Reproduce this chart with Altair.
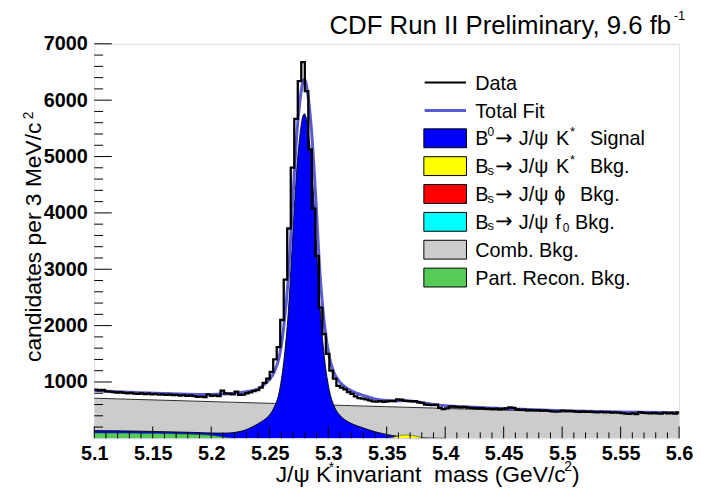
import altair as alt
import pandas as pd

# ---------------- data ----------------
bin_lo = 5.1
bin_width = 0.003
counts = [865, 850, 858, 835, 828, 820, 812, 818, 805, 800, 808, 795, 790, 798, 785, 792,
          780, 788, 775, 782, 770, 778, 765, 772, 758, 765, 752, 760, 748, 735, 740, 730,
          780, 755, 760, 750, 845, 798, 795, 780, 828, 770, 775, 800, 815, 838,
          856, 900, 985, 1061, 1179, 1400, 1617, 2100, 2816, 3723, 4804, 5670, 6337, 6675,
          6161, 5126, 4074, 3237, 2319, 1851, 1500, 1200, 1060, 930,
          900, 870, 820, 790, 745, 715, 705, 690, 675, 655, 650, 660, 648, 655, 665, 660,
          690, 685, 665, 660, 655, 662, 640, 630, 600, 595, 590, 598, 540, 520, 530, 562,
          565, 555, 550, 558, 545, 540, 535, 530, 538, 522,
          525, 520, 528, 515, 522, 530, 548, 540, 512, 505, 510, 498, 502, 495, 500, 492,
          496, 488, 480, 475, 478, 490, 485, 488, 482, 476, 472, 480, 470, 476, 465, 462,
          468, 460, 464, 458, 462, 455, 448, 440, 435, 445, 432, 465, 452, 448, 445, 450,
          444, 440, 455, 445, 450, 440, 462]

curve_x = [5.100, 5.120, 5.140, 5.160, 5.180, 5.200, 5.210, 5.220, 5.230, 5.240,
           5.245, 5.250, 5.254, 5.258, 5.262, 5.266, 5.270, 5.273, 5.276, 5.278,
           5.2796, 5.281, 5.283, 5.286, 5.289, 5.293, 5.297, 5.301, 5.305, 5.310,
           5.315, 5.320, 5.330, 5.340, 5.350, 5.355, 5.360, 5.365, 5.370, 5.375,
           5.380, 5.385, 5.390, 5.400, 5.420, 5.450, 5.500, 5.550, 5.600]
comb_bkg = [712, 700, 688, 676, 664, 652, 646, 640, 634, 628,
            625, 622, 620, 617, 615, 613, 610, 608, 606, 605,
            604, 603, 602, 600, 598, 596, 594, 591, 589, 586,
            583, 580, 574, 568, 562, 559, 556, 553, 550, 547,
            544, 541, 538, 530, 518, 500, 472, 455, 442]
signal_b0 = [137, 133, 127, 118, 108, 95, 92, 105, 155, 260,
             325, 420, 560, 810, 1360, 2270, 3720, 4730, 5410, 5690,
             5760, 5700, 5440, 4790, 3800, 2330, 1390, 850, 575, 410,
             320, 262, 185, 118, 70, 50, 35, 25, 18, 12,
             8, 5, 3, 0, 0, 0, 0, 0, 0]
part_recon = [95, 93, 90, 85, 75, 55, 25, 0, 0, 0,
              0, 0, 0, 0, 0, 0, 0, 0, 0, 0,
              0, 0, 0, 0, 0, 0, 0, 0, 0, 0,
              0, 0, 0, 0, 0, 0, 0, 0, 0, 0,
              0, 0, 0, 0, 0, 0, 0, 0, 0]
bs_kstar = [0, 0, 0, 0, 0, 0, 0, 0, 0, 0,
            0, 0, 0, 0, 0, 0, 0, 0, 0, 0,
            0, 0, 0, 0, 0, 0, 0, 0, 0, 0,
            0, 0, 0, 0, 0, 15, 42, 60, 55, 38,
            15, 0, 0, 0, 0, 0, 0, 0, 0]
total_fit = [850, 828, 810, 795, 783, 778, 785, 800, 828, 880,
             950, 1045, 1185, 1430, 1975, 2880, 4330, 5340, 6015, 6295,
             6365, 6305, 6040, 5390, 4400, 2925, 1985, 1440, 1165, 995,
             903, 842, 760, 700, 672, 668, 668, 670, 665, 652,
             635, 618, 603, 580, 555, 528, 492, 468, 455]

x_ticks = [5.1, 5.15, 5.2, 5.25, 5.3, 5.35, 5.4, 5.45, 5.5, 5.55, 5.6]
y_ticks = [1000, 2000, 3000, 4000, 5000, 6000, 7000]
x_minor = [round(5.1 + 0.01 * k, 2) for k in range(51) if k % 5]
y_minor = [200 * k for k in range(1, 35) if k % 5]

# ---------------- layout ----------------
W, H = 590, 398
X0, Y0 = 95, 42
FONT = "Liberation Sans"
FIT_COLOR = "#5a5ad2"

edges = [round(bin_lo + bin_width * i, 4) for i in range(len(counts) + 1)]
hist = pd.DataFrame({"m": edges, "n": counts + [counts[-1]]})
cur = pd.DataFrame({"m": curve_x, "comb": comb_bkg, "sig": signal_b0,
                    "pr": part_recon, "bsk": bs_kstar, "fit": total_fit})

xscale = alt.Scale(domain=[5.1, 5.6], nice=False, zero=False)
yscale = alt.Scale(domain=[0, 7000], nice=False)
xaxis = alt.Axis(values=x_ticks, format=".2~f", labelFont=FONT, labelFontSize=20,
                 labelFontWeight="bold", labelColor="black", tickSize=0, domain=False,
                 grid=False, labelPadding=5, title=None, labelFlush=False)
yaxis = alt.Axis(values=y_ticks, format="d", labelFont=FONT, labelFontSize=20,
                 labelFontWeight="bold", labelColor="black", tickSize=0, domain=False,
                 grid=False, labelPadding=7, title=None)


def X(f):
    return alt.X(f"{f}:Q", scale=xscale, axis=xaxis)


def Y(f):
    return alt.Y(f"{f}:Q", scale=yscale, axis=yaxis)


def area(df, color, field, outline="black", ow=0.8):
    return (alt.Chart(df).mark_area(color=color, opacity=1, fillOpacity=1, interpolate="monotone",
                                     clip=True, line={"color": outline, "strokeWidth": ow})
            .encode(x=X("m"), y=Y(field)))


layers = []
layers.append(area(cur, "#cccccc", "comb"))
layers.append(area(cur[cur.m <= 5.40], "#0000ff", "sig", ow=0.9))
layers.append(area(cur[cur.m <= 5.22], "#55cc55", "pr", outline="#1d4d1d", ow=0.6))
layers.append(area(cur[(cur.m >= 5.35) & (cur.m <= 5.385)], "#ffff00", "bsk", outline="#555500", ow=0.6))
layers.append(alt.Chart(cur).mark_line(color=FIT_COLOR, strokeWidth=3, interpolate="monotone", clip=True)
              .encode(x=X("m"), y=Y("fit")))
layers.append(alt.Chart(hist).mark_line(color="black", strokeWidth=2.3, interpolate="step-after", clip=True)
              .encode(x=X("m"), y=Y("n")))

# inside ticks
layers.append(alt.Chart(pd.DataFrame({"m": x_ticks})).mark_rule(color="black", strokeWidth=1)
              .encode(x=X("m"), y=alt.value(H), y2=alt.value(H - 12)))
layers.append(alt.Chart(pd.DataFrame({"m": x_minor})).mark_rule(color="black", strokeWidth=1)
              .encode(x=X("m"), y=alt.value(H), y2=alt.value(H - 6)))
layers.append(alt.Chart(pd.DataFrame({"v": y_ticks})).mark_rule(color="black", strokeWidth=1)
              .encode(y=Y("v"), x=alt.value(0), x2=alt.value(17.7)))
layers.append(alt.Chart(pd.DataFrame({"v": y_minor})).mark_rule(color="black", strokeWidth=1)
              .encode(y=Y("v"), x=alt.value(0), x2=alt.value(8.9)))

dummy = pd.DataFrame({"a": [0]})


def txt(s, px, py, size, weight="normal", angle=0, align="left", font=FONT):
    return alt.Chart(dummy).mark_text(text=s, fontSize=size, font=font, fontWeight=weight,
                                      align=align, baseline="alphabetic", angle=angle,
                                      color="black").encode(x=alt.value(px - X0), y=alt.value(py - Y0))


# legend
rows = [81, 109.2, 137.3, 165.4, 193.5, 221.6, 249.7, 277.8]
layers.append(alt.Chart(dummy).mark_rule(color="black", strokeWidth=2)
              .encode(x=alt.value(428.3 - X0), x2=alt.value(470 - X0), y=alt.value(rows[0] - Y0)))
layers.append(alt.Chart(dummy).mark_rule(color=FIT_COLOR, strokeWidth=3)
              .encode(x=alt.value(428.3 - X0), x2=alt.value(470 - X0), y=alt.value(rows[1] - Y0)))
box_colors = ["#0000ff", "#ffff00", "#ff0000", "#00ffff", "#cccccc", "#55cc55"]
for k, col in enumerate(box_colors):
    c = rows[k + 2]
    layers.append(alt.Chart(dummy).mark_rect(color=col, opacity=1, stroke="black", strokeWidth=1)
                  .encode(x=alt.value(427.5 - X0), x2=alt.value(470.5 - X0),
                          y=alt.value(c - 9.5 - Y0), y2=alt.value(c + 9.5 - Y0)))

LX = 479.3
b = [c + 7.2 for c in rows]
pieces = [("Data", LX, b[0], 20), ("Total Fit", LX, b[1], 20),
          ("B", LX, b[2], 20), ("0", 491.7, rows[2] - 2, 12),
          ("J/\u03c8", 523.3, b[2], 20), ("K", 560.7, b[2], 20), ("*", 575, rows[2] - 2.5, 13),
          ("Signal", 595, b[2], 20),
          ("B", LX, b[3], 20), ("s", 491.7, rows[3] + 8.6, 13),
          ("J/\u03c8", 523.3, b[3], 20), ("K", 560.7, b[3], 20), ("*", 575, rows[3] - 2.5, 13),
          ("Bkg.", 595, b[3], 20),
          ("B", LX, b[4], 20), ("s", 491.7, rows[4] + 8.6, 13),
          ("J/\u03c8", 523.3, b[4], 20), ("\u03d5", 559, b[4], 20), ("Bkg.", 585, b[4], 20),
          ("B", LX, b[5], 20), ("s", 491.7, rows[5] + 8.6, 13),
          ("J/\u03c8", 523.3, b[5], 20), ("f", 560, b[5], 20), ("0", 567.5, rows[5] + 10.4, 12),
          ("Bkg.", 580, b[5], 20),
          ("Comb. Bkg.", LX, b[6], 20), ("Part. Recon. Bkg.", LX, b[7], 20)]
for s, px, py, fs in pieces:
    layers.append(txt(s, px, py, fs))
for r in (2, 3, 4, 5):
    layers.append(txt("\u2192", 499.5, b[r] - 0.5, 21, font="DejaVu Sans"))

# title
layers.append(txt("CDF Run II Preliminary, 9.6 fb", 677, 32, 26, align="right"))
layers.append(txt("-1", 679.5, 18, 13))

# x axis title
layers.append(txt("J/\u03c8 K", 278, 484, 23))
layers.append(txt("*", 331.5, 474, 14))
layers.append(txt("invariant \u00a0mass (GeV/c", 338, 484, 23))
layers.append(txt("2", 569, 473, 14))
layers.append(txt(")", 577, 484, 23))

# y axis title
layers.append(txt("candidates per 3 MeV/c", 41.5, 363, 23, angle=270))
layers.append(txt("2", 33.5, 118, 14, angle=270))

chart = alt.layer(*layers).properties(
    width=W, height=H,
    padding={"left": X0 - 8, "top": Y0 - 8, "right": 14, "bottom": 52},
    autosize=alt.AutoSizeParams(type="none"),
).configure_view(stroke="black", strokeWidth=1.6).configure(background="white")

chart.save("out.html", embed_options={"renderer": "svg", "actions": False})
